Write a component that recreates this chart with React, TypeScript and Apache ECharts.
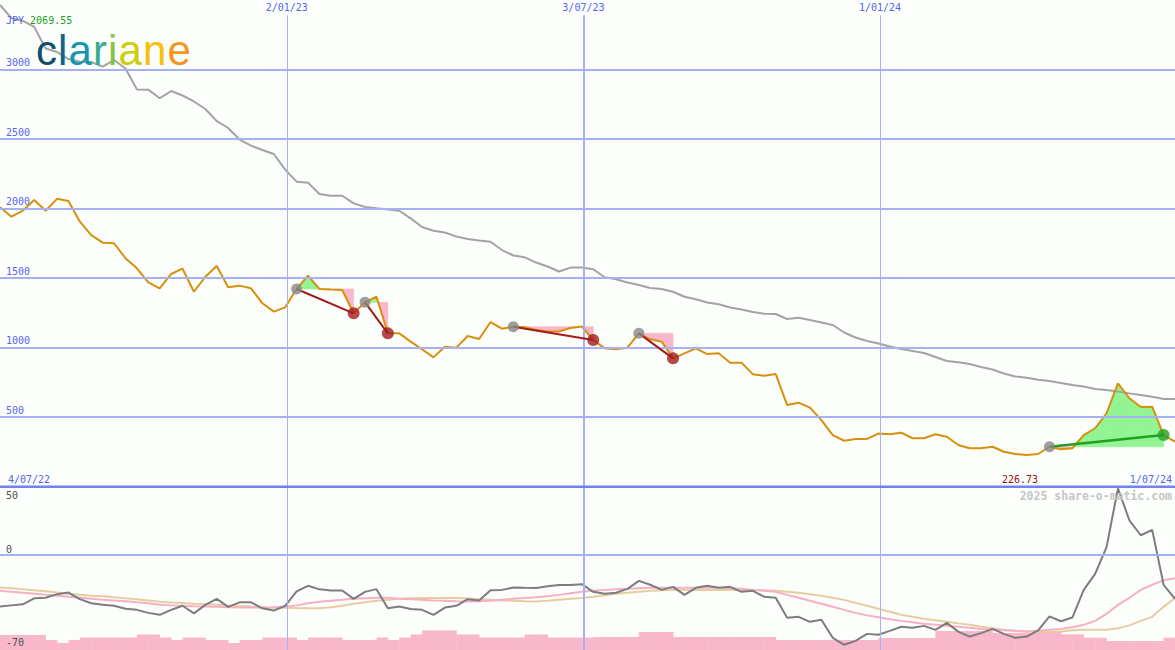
import React, { useEffect, useRef } from 'react';
import * as echarts from 'echarts';

// ---------- data ----------
const startDay = [2022, 6, 10]; // first weekly point (y, m0, d)
const endDay = [2024, 5, 30];
const WEEK = 7 * 86400000;

const price = [
  2009, 1941, 1984, 2061, 1984, 2069.55, 2054, 1905, 1809, 1754,
  1750, 1642, 1570, 1469, 1426, 1529, 1567, 1401, 1509, 1586,
  1433, 1445, 1426, 1318, 1258, 1289, 1421, 1517, 1421, 1417,
  1414, 1246, 1325, 1365, 1102, 1102, 1042, 987, 929, 1006,
  999, 1083, 1061, 1183, 1135, 1150, 1145, 1126, 1115, 1115,
  1140, 1151, 1054, 994, 987, 999, 1102, 1059, 1042, 922,
  958, 994, 953, 958, 891, 891, 807, 797, 809, 586,
  603, 567, 478, 370, 329, 342, 342, 381, 376, 387,
  347, 347, 376, 358, 299, 275, 275, 286, 250, 234,
  226.73, 234, 286, 268, 275, 370, 419, 527, 742, 635,
  572, 574, 370, 322,
];

const movingAvg = [
  3464, 3370, 3349, 3306, 3151, 3126, 3075, 3056, 3054, 3021,
  3068, 3007, 2857, 2855, 2793, 2845, 2813, 2770, 2716, 2629,
  2579, 2496, 2452, 2421, 2392, 2280, 2193, 2186, 2104, 2092,
  2092, 2037, 2011, 2001, 1993, 1984, 1929, 1867, 1840, 1827,
  1798, 1781, 1770, 1761, 1701, 1662, 1649, 1611, 1583, 1547,
  1575, 1575, 1563, 1505, 1491, 1468, 1450, 1428, 1421, 1401,
  1365, 1347, 1324, 1311, 1288, 1273, 1255, 1242, 1241, 1205,
  1214, 1198, 1180, 1162, 1108, 1072, 1047, 1029, 1007, 989,
  975, 960, 932, 903, 894, 881, 860, 842, 813, 791,
  783, 768, 759, 745, 730, 719, 701, 694, 683, 670,
  658, 646, 629, 629,
];

const oscGray = [
  -49.7, -48.6, -47.6, -41.8, -41.3, -37.8, -36.3, -42.6, -46.6, -48.1,
  -49.0, -51.9, -52.9, -55.8, -57.7, -52.9, -49.0, -56.3, -48.1, -42.3,
  -50.0, -45.7, -45.7, -51.4, -53.6, -49.0, -35.1, -29.8, -33.2, -34.3,
  -34.3, -42.3, -35.6, -33.0, -51.4, -49.7, -52.1, -52.9, -57.7, -50.7,
  -49.0, -42.6, -43.9, -34.1, -33.7, -31.4, -31.7, -31.9, -30.3, -29.1,
  -29.1, -28.2, -35.6, -37.5, -36.5, -32.7, -25.0, -28.8, -33.7, -30.8,
  -38.5, -31.7, -29.8, -31.7, -30.8, -35.6, -34.6, -40.4, -41.3, -60.6,
  -59.6, -64.4, -62.5, -79.8, -86.5, -82.7, -76.0, -76.9, -73.1, -69.2,
  -70.2, -68.3, -72.1, -65.4, -73.8, -78.6, -75.3, -71.2, -76.0, -79.8,
  -78.6, -72.6, -59.1, -63.9, -60.3, -33.7, -18.3, 7.4, 63.9, 33.2,
  18.8, 24.0, -28.8, -42.3,
];

const oscPink = [
  -34.6, -35.6, -36.5, -37.5, -38.5, -39.4, -40.4, -41.3, -42.3, -43.3,
  -43.8, -44.7, -45.7, -46.6, -48.1, -48.6, -49.0, -49.5, -49.7, -50.0,
  -50.5, -50.7, -50.7, -50.7, -50.5, -50.0, -48.6, -46.6, -45.2, -44.2,
  -43.3, -42.3, -41.8, -41.3, -41.3, -42.3, -42.8, -43.3, -43.8, -44.2,
  -44.7, -44.9, -44.7, -44.2, -43.3, -42.3, -41.6, -40.9, -39.9, -38.5,
  -37.0, -35.6, -34.6, -33.7, -33.2, -32.7, -32.2, -31.7, -31.7, -31.7,
  -31.7, -31.7, -31.7, -31.7, -32.2, -32.7, -33.7, -34.6, -35.6, -38.5,
  -41.3, -44.2, -47.1, -50.0, -52.9, -55.8, -58.2, -60.1, -62.0, -63.5,
  -64.9, -66.3, -67.3, -68.3, -69.2, -70.2, -71.2, -72.1, -72.6, -73.1,
  -73.6, -73.1, -72.1, -71.2, -69.7, -67.3, -63.5, -56.7, -48.1, -41.3,
  -33.7, -28.8, -24.5, -22.6,
];

const oscTan = [
  -31.4, -32.2, -33.2, -34.1, -35.1, -36.1, -37.5, -38.5, -39.4, -39.9,
  -40.9, -41.8, -42.6, -43.8, -45.2, -45.9, -46.4, -47.1, -47.6, -48.1,
  -48.8, -49.2, -49.8, -50.5, -50.8, -51.0, -51.2, -51.3, -51.3, -50.5,
  -49.0, -47.1, -45.7, -44.2, -43.3, -42.3, -41.8, -41.6, -41.6, -41.6,
  -41.6, -42.1, -42.8, -43.3, -43.8, -44.2, -44.7, -44.9, -44.2, -43.3,
  -42.3, -41.6, -40.4, -38.9, -37.5, -36.5, -35.6, -34.6, -34.1, -33.7,
  -33.7, -33.7, -33.7, -33.7, -33.7, -33.7, -33.7, -34.1, -34.6, -35.6,
  -36.5, -38.0, -39.4, -41.3, -43.3, -46.2, -49.0, -51.9, -54.8, -57.7,
  -59.6, -61.5, -63.0, -64.4, -65.9, -67.3, -69.2, -70.7, -72.1, -73.1,
  -73.8, -74.2, -74.3, -73.6, -72.6, -72.1, -72.1, -72.1, -70.7, -67.8,
  -63.5, -59.6, -50.0, -41.6,
];

const volume = [
  15, 15, 15, 15, 10, 7, 10, 12.5, 12.5, 12.5,
  12.5, 12.5, 15.5, 15.5, 12.5, 10, 12.5, 12.5, 10, 10,
  7, 10, 10, 12.5, 12.5, 12.5, 10, 12.5, 12.5, 12.5,
  10, 10, 10, 12.5, 10, 12.5, 15.5, 19.5, 19.5, 19.5,
  15.5, 15.5, 12.5, 12.5, 12.5, 12.5, 15.5, 15.5, 12.5, 12.5,
  12.5, 12.5, 13, 13, 13, 13, 18, 18, 18, 13,
  13, 13, 13, 13, 13, 13, 13, 13, 10, 10,
  10, 10, 10, 10, 10, 10, 10, 12, 12, 12,
  12, 12, 19, 19, 19, 19, 19, 17, 17, 17,
  17, 17, 18.3, 15.7, 15.7, 12.3, 12.3, 9, 9, 9,
  9, 9, 12.3,
];

const tradeEntry = [26, 32, 45, 56, 92];
const tradeExit = [31, 34, 52, 59, 102];

const priceTicks = [500, 1000, 1500, 2000, 2500, 3000];
const dateLineDays = [[2023, 0, 2], [2023, 6, 3], [2024, 0, 1]];
const dateLineLabels = ['2/01/23', '3/07/23', '1/01/24'];
const startLabel = '4/07/22';
const endLabel = '1/07/24';
const currency = 'JPY';
const lowerTickLabels = ['50', '0', '-70'];
const watermark = '2025 share-o-matic.com';
const logoLetters = ['c', 'l', 'a', 'r', 'i', 'a', 'n', 'e'];
const logoColors = ['#0f4d6b', '#0e6684', '#1796b1', '#3aa98f', '#86c341', '#cfcd12', '#f4c20a', '#f4961a'];

// ---------- styles ----------
const BG = '#fbfefb';
const GRID = '#a6b0f2';
const SEP = '#7282f0';
const BLUE_TXT = '#5565f2';
const ORANGE = '#d7900c';
const MA_GRAY = '#a3a3a3';
const GREEN_FILL = '#92f492';
const PINK_FILL = '#f9b7cb';
const LOSS = '#a31c1c';
const WIN = '#22a022';
const ENTRY = '#878787';
const MONO = '"DejaVu Sans Mono", monospace';

const UP_MIN = 0;
const UP_MAX = 3500;
const LOW_MIN = -91.5;
const LOW_MAX = 65.2;

const t0 = new Date(startDay[0], startDay[1], startDay[2]).getTime();
const t1 = new Date(endDay[0], endDay[1], endDay[2]).getTime();
const weeks = price.map((_, i) => t0 + i * WEEK);
const dateLineTs = dateLineDays.map((d) => new Date(d[0], d[1], d[2]).getTime());

function buildOption() {
  const fillSeries = {
    type: 'custom',
    xAxisIndex: 0,
    yAxisIndex: 0,
    z: 1,
    silent: true,
    data: tradeEntry.map((e, i) => [weeks[e], price[e], i]),
    renderItem: (params: any, api: any) => {
      const t = params.dataIndex;
      const a = tradeEntry[t];
      const b = tradeExit[t];
      const base = price[a];
      const children: any[] = [];
      const push = (pts: number[][], up: boolean) => {
        const c = up ? GREEN_FILL : PINK_FILL;
        children.push({
          type: 'polygon',
          shape: { points: pts.map((p) => api.coord(p)) },
          style: { fill: c, stroke: c, lineWidth: 0.6 },
        });
      };
      for (let k = a; k < b; k++) {
        const x0 = weeks[k];
        const x1 = weeks[k + 1];
        const d0 = price[k] - base;
        const d1 = price[k + 1] - base;
        if (d0 * d1 >= 0) {
          if (d0 === 0 && d1 === 0) continue;
          push([[x0, base], [x0, price[k]], [x1, price[k + 1]], [x1, base]], d0 + d1 > 0);
        } else {
          const f = d0 / (d0 - d1);
          const xc = x0 + f * (x1 - x0);
          push([[x0, base], [x0, price[k]], [xc, base]], d0 > 0);
          push([[xc, base], [x1, price[k + 1]], [x1, base]], d1 > 0);
        }
      }
      return { type: 'group', children };
    },
  };

  const volumeSeries = {
    type: 'custom',
    xAxisIndex: 1,
    yAxisIndex: 2,
    z: 0,
    silent: true,
    data: volume.map((v, i) => [weeks[i], v]),
    renderItem: (params: any, api: any) => {
      const x = api.value(0);
      const v = api.value(1);
      const p0 = api.coord([x, v]);
      const p1 = api.coord([x + WEEK, 0]);
      return {
        type: 'rect',
        shape: { x: p0[0], y: p0[1], width: p1[0] - p0[0] + 0.4, height: p1[1] - p0[1] },
        style: { fill: PINK_FILL },
      };
    },
  };

  const upperGridSeries = {
    type: 'line',
    xAxisIndex: 0,
    yAxisIndex: 0,
    z: 2,
    silent: true,
    symbol: 'none',
    lineStyle: { opacity: 0 },
    data: weeks.map((w, i) => [w, price[i]]),
    markLine: {
      silent: true,
      symbol: 'none',
      animation: false,
      label: { show: false },
      lineStyle: { color: GRID, width: 2, type: 'solid' },
      data: [
        ...priceTicks.map((v) => ({ yAxis: v })),
        ...dateLineTs.map((ts, i) => [
          {
            name: dateLineLabels[i],
            coord: [ts, 3390],
            lineStyle: { color: GRID, width: i === 1 ? 2 : 1, type: 'solid' },
            label: {
              show: true,
              position: 'start',
              formatter: '{b}',
              color: BLUE_TXT,
              fontFamily: MONO,
              fontSize: 10,
              distance: 3,
            },
          },
          { coord: [ts, UP_MIN] },
        ]),
      ],
    },
  };

  const lowerGridSeries = {
    type: 'line',
    xAxisIndex: 1,
    yAxisIndex: 1,
    z: 1,
    silent: true,
    symbol: 'none',
    lineStyle: { opacity: 0 },
    data: weeks.map((w, i) => [w, oscGray[i]]),
    markLine: {
      silent: true,
      symbol: 'none',
      animation: false,
      label: { show: false },
      lineStyle: { color: GRID, width: 2, type: 'solid' },
      data: [
        { yAxis: 0 },
        ...dateLineTs.map((ts, i) => [
          {
            coord: [ts, LOW_MAX],
            lineStyle: { color: GRID, width: i === 1 ? 2 : 1, type: 'solid' },
          },
          { coord: [ts, LOW_MIN] },
        ]),
      ],
    },
  };

  const tradeLines = tradeEntry.map((a, i) => {
    const b = tradeExit[i];
    const win = price[b] > price[a];
    return {
      type: 'line',
      xAxisIndex: 0,
      yAxisIndex: 0,
      z: 5,
      silent: true,
      symbol: 'none',
      lineStyle: { color: win ? WIN : LOSS, width: win ? 2.5 : 2 },
      data: [[weeks[a], price[a]], [weeks[b], price[b]]],
    };
  });

  const entryMarks = {
    type: 'scatter',
    xAxisIndex: 0,
    yAxisIndex: 0,
    z: 6,
    silent: true,
    symbolSize: 11,
    itemStyle: { color: ENTRY },
    data: tradeEntry.map((a) => [weeks[a], price[a]]),
  };
  const exitMarks = {
    type: 'scatter',
    xAxisIndex: 0,
    yAxisIndex: 0,
    z: 6,
    silent: true,
    symbolSize: 12,
    data: tradeExit.map((b, i) => ({
      value: [weeks[b], price[b]],
      itemStyle: { color: price[b] > price[tradeEntry[i]] ? WIN : LOSS },
    })),
  };

  const pMin = Math.min(...price);
  const pMax = Math.max(...price);

  const txt = (text: string, x: number, y: number, fill: string, align = 'left', extra: any = {}) => ({
    type: 'text',
    x,
    y,
    z: 20,
    silent: true,
    style: {
      text,
      fill,
      font: `10px ${MONO}`,
      align,
      verticalAlign: 'middle',
      ...extra,
    },
  });

  const rich: any = {};
  logoLetters.forEach((ch, i) => {
    rich['l' + i] = {
      fill: logoColors[i],
      fontSize: 42,
      fontFamily: '"Liberation Sans"',
      fontWeight: 400,
      lineHeight: 26,
      padding: [0, 1.1, 0, 0],
    };
  });
  const logoText = logoLetters.map((ch, i) => `{l${i}|${ch}}`).join('');

  return {
    animation: false,
    backgroundColor: BG,
    grid: [
      { left: 0, right: 0, top: 0, height: 486.5, containLabel: false },
      { left: 0, right: 0, top: 487, bottom: 0, containLabel: false },
    ],
    xAxis: [
      { type: 'time', gridIndex: 0, min: t0, max: t1, show: false },
      { type: 'time', gridIndex: 1, min: t0, max: t1, show: false },
    ],
    yAxis: [
      {
        type: 'value',
        gridIndex: 0,
        min: UP_MIN,
        max: UP_MAX,
        interval: 500,
        axisLine: { show: false },
        axisTick: { show: false },
        splitLine: { show: false },
        axisLabel: {
          inside: true,
          margin: 6,
          color: BLUE_TXT,
          fontFamily: MONO,
          fontSize: 10,
          verticalAlign: 'bottom',
          padding: [0, 0, 2, 0],
          formatter: (v: number) => (priceTicks.includes(v) ? String(v) : ''),
        },
      },
      { type: 'value', gridIndex: 1, min: LOW_MIN, max: LOW_MAX, show: false },
      { type: 'value', gridIndex: 1, min: 0, max: 163, show: false },
    ],
    series: [
      fillSeries,
      upperGridSeries,
      {
        type: 'line',
        xAxisIndex: 0,
        yAxisIndex: 0,
        z: 3,
        silent: true,
        symbol: 'none',
        lineStyle: { color: MA_GRAY, width: 2 },
        data: weeks.map((w, i) => [w, movingAvg[i]]),
      },
      {
        type: 'line',
        xAxisIndex: 0,
        yAxisIndex: 0,
        z: 4,
        silent: true,
        symbol: 'none',
        lineStyle: { color: ORANGE, width: 2 },
        data: weeks.map((w, i) => [w, price[i]]),
      },
      ...tradeLines,
      entryMarks,
      exitMarks,
      volumeSeries,
      lowerGridSeries,
      {
        type: 'line',
        xAxisIndex: 1,
        yAxisIndex: 1,
        z: 2,
        silent: true,
        symbol: 'none',
        lineStyle: { color: '#e5cd9e', width: 2 },
        data: weeks.map((w, i) => [w, oscTan[i]]),
      },
      {
        type: 'line',
        xAxisIndex: 1,
        yAxisIndex: 1,
        z: 3,
        silent: true,
        symbol: 'none',
        lineStyle: { color: '#f8afc6', width: 2 },
        data: weeks.map((w, i) => [w, oscPink[i]]),
      },
      {
        type: 'line',
        xAxisIndex: 1,
        yAxisIndex: 1,
        z: 4,
        silent: true,
        symbol: 'none',
        lineStyle: { color: '#7d7d7d', width: 2 },
        data: weeks.map((w, i) => [w, oscGray[i]]),
      },
    ],
    graphic: [
      { type: 'rect', z: 15, silent: true, shape: { x: 0, y: 485.5, width: 1175, height: 2.5 }, style: { fill: SEP } },
      {
        type: 'text',
        x: 6,
        y: 20,
        z: 20,
        silent: true,
        style: {
          text: `{a|${currency} }{b|${pMax.toFixed(2)}}`,
          verticalAlign: 'middle',
          rich: {
            a: { fill: BLUE_TXT, fontFamily: MONO, fontSize: 10, lineHeight: 10 },
            b: { fill: '#22a022', fontFamily: MONO, fontSize: 10, lineHeight: 10 },
          },
        },
      },
      {
        type: 'text',
        x: 36,
        y: 50,
        z: 20,
        silent: true,
        style: { text: logoText, rich, verticalAlign: 'middle' },
      },
      txt(startLabel, 8, 479, BLUE_TXT),
      txt(pMin.toFixed(2), 1002, 479, '#a01010'),
      txt(endLabel, 1172, 479, BLUE_TXT, 'right'),
      txt(watermark, 1172, 496, '#c6c6c6', 'right', { font: `bold 11.5px ${MONO}` }),
      txt(lowerTickLabels[0], 6, 495, '#505050'),
      txt(lowerTickLabels[1], 6, 549, '#505050'),
      txt(lowerTickLabels[2], 6, 642, '#505050'),
    ],
  };
}

export default function App() {
  const ref = useRef<HTMLDivElement>(null);
  useEffect(() => {
    document.body.style.margin = '0';
    const chart = echarts.init(ref.current as HTMLDivElement, null, { renderer: 'svg' });
    chart.setOption(buildOption() as any);
    return () => chart.dispose();
  }, []);
  return <div ref={ref} style={{ width: 1175, height: 650 }} />;
}
